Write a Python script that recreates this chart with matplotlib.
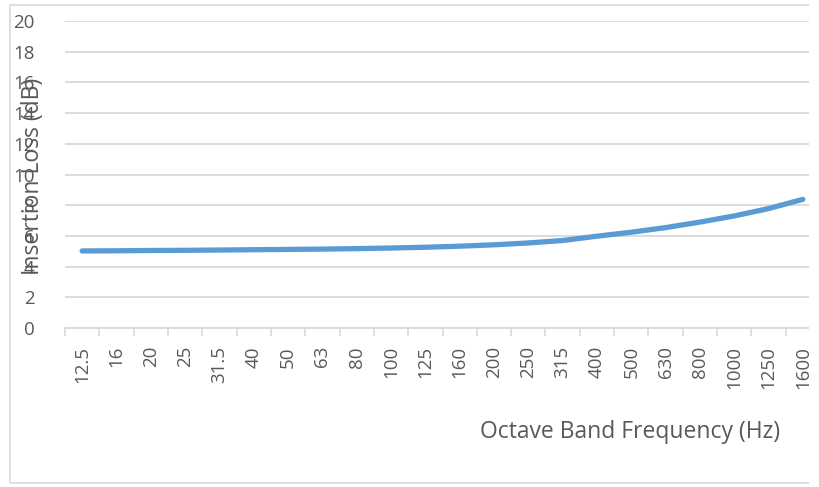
import matplotlib
matplotlib.use("Agg")
from matplotlib import pyplot as plt
from matplotlib.patches import Rectangle

# octave band centre frequencies and insertion loss
freqs = ["12.5", "16", "20", "25", "31.5", "40", "50", "63", "80", "100", "125",
         "160", "200", "250", "315", "400", "500", "630", "800", "1000", "1250", "1600"]
loss = [5.02, 5.03, 5.05, 5.06, 5.08, 5.10, 5.12, 5.14, 5.17, 5.21, 5.26,
        5.33, 5.42, 5.54, 5.70, 5.98, 6.24, 6.54, 6.90, 7.30, 7.78, 8.38]
yticks = list(range(0, 21, 2))

grey = "#595959"
grid = "#D9D9D9"
blue = "#5B9BD5"

plt.rcParams["font.family"] = ["Open Sans", "DejaVu Sans"]

W, H = 819, 487
fig = plt.figure(figsize=(W / 100, H / 100), dpi=100)
ax = fig.add_axes([65 / W, 1 - 328 / H, 755 / W, 307 / H])

x = list(range(len(freqs)))
ax.plot(x, loss, color=blue, lw=3.8, solid_capstyle="round", zorder=3)

ax.set_xlim(-0.5, len(freqs) - 0.5)
ax.set_ylim(0, 20)
ax.set_yticks(yticks)
ax.set_yticklabels([str(v) for v in yticks], fontsize=13.5, color=grey)
ax.tick_params(axis="y", length=0, pad=22)
ax.yaxis.grid(True, color=grid, lw=1.3)
ax.set_axisbelow(True)

ax.set_xticks(x)
ax.set_xticklabels(freqs, rotation=90, fontsize=13.5, color=grey)
ax.tick_params(axis="x", which="major", length=0, pad=13)
ax.set_xticks([i - 0.5 for i in range(len(freqs) + 1)], minor=True)
ax.tick_params(axis="x", which="minor", length=6, width=1.2, color=grid)

for s in ["top", "right", "left"]:
    ax.spines[s].set_visible(False)
ax.spines["bottom"].set_color(grid)
ax.spines["bottom"].set_linewidth(1.3)

fig.text(33 / W, 1 - 176 / H, "Insertion Loss (dB)", rotation=90, fontsize=16.5,
         color=grey, ha="center", va="center")
fig.text(630 / W, 1 - 432 / H, "Octave Band Frequency (Hz)", fontsize=16.5,
         color=grey, ha="center", va="center")

# chart border, cut off at the right like the source image
fig.patches.append(Rectangle((10 / W, 1 - 483 / H), 820 / W, 478 / H,
                             transform=fig.transFigure, fill=False,
                             ec=grid, lw=1.2, zorder=0))
fig.patches.append(Rectangle((809 / W, 0), 10 / W, 1, transform=fig.transFigure,
                             fc="white", ec="none", zorder=10))

fig.savefig("out.png", dpi=100)
